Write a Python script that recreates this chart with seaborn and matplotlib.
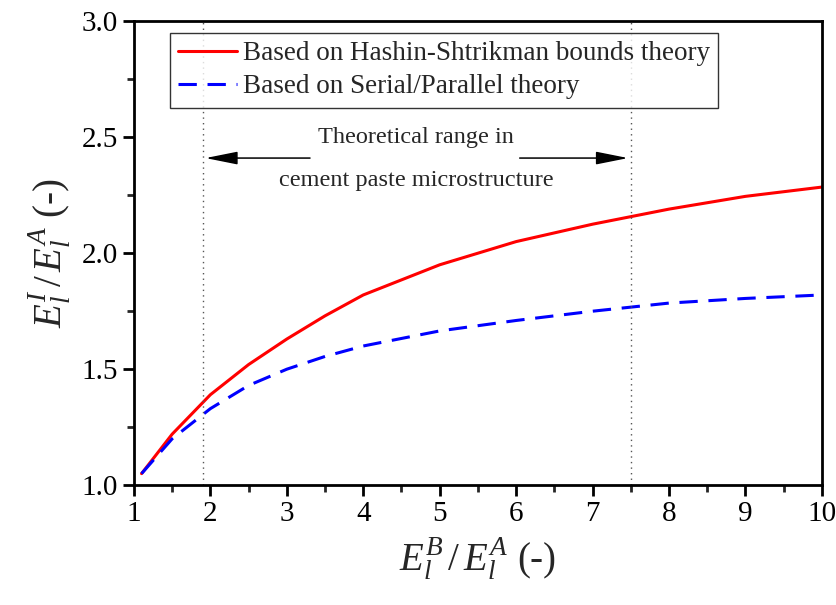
import matplotlib

matplotlib.use("Agg")
import matplotlib.pyplot as plt
import numpy as np
import pandas as pd
import seaborn as sns
from matplotlib.ticker import MultipleLocator

# stiffness ratio E_l^B / E_l^A
ratio = [1.1, 1.5, 2.0, 2.5, 3.0, 3.5, 4.0, 5.0, 6.0, 7.0, 8.0, 9.0, 10.0]
# homogenised ratio E_l^I / E_l^A
hs_bounds = [1.05, 1.22, 1.39, 1.52, 1.63, 1.73, 1.82, 1.95, 2.05, 2.125, 2.19, 2.245, 2.285]
serial_parallel = [1.05, 1.20, 1.33, 1.43, 1.50, 1.555, 1.60, 1.665, 1.71, 1.75, 1.785, 1.805, 1.82]
series_names = ["Based on Hashin-Shtrikman bounds theory", "Based on Serial/Parallel theory"]
range_limits = [1.9, 7.5]

df = pd.DataFrame({
    "ratio": ratio * 2,
    "value": hs_bounds + serial_parallel,
    "model": [series_names[0]] * len(ratio) + [series_names[1]] * len(ratio),
})

sns.set_theme(style="ticks")
plt.rcParams["font.family"] = ["Liberation Serif", "DejaVu Serif"]
plt.rcParams["mathtext.fontset"] = "custom"
plt.rcParams["mathtext.rm"] = "Liberation Serif"
plt.rcParams["mathtext.it"] = "Liberation Serif:italic"

fig = plt.figure(figsize=(8.37, 6.05), dpi=100)
ax = fig.add_axes([0.160, 0.198, 0.822, 0.767])

sns.lineplot(data=df, x="ratio", y="value", hue="model", style="model",
             palette=["#ff0000", "#0000ff"], dashes=[(), (6, 3.5)],
             linewidth=2.2, ax=ax)

for xv in range_limits:
    ax.axvline(xv, color="#555555", linestyle=(0, (1, 3)), linewidth=1)

# double-headed range arrow split around the text
arrow_style = "-|>,head_length=0.9,head_width=0.18"
ax.annotate("", xy=(range_limits[0], 2.41), xytext=(3.34, 2.41),
            arrowprops=dict(arrowstyle=arrow_style, color="black", lw=1.1, mutation_scale=22))
ax.annotate("", xy=(range_limits[1], 2.41), xytext=(6.01, 2.41),
            arrowprops=dict(arrowstyle=arrow_style, color="black", lw=1.1, mutation_scale=22))
ax.text(4.69, 2.50, "Theoretical range in", ha="center", va="center", fontsize=17.5)
ax.text(4.69, 2.315, "cement paste microstructure", ha="center", va="center", fontsize=17.5)

ax.set_xlim(1, 10)
ax.set_ylim(1.0, 3.0)
ax.xaxis.set_major_locator(MultipleLocator(1))
ax.xaxis.set_minor_locator(MultipleLocator(0.5))
ax.yaxis.set_major_locator(MultipleLocator(0.5))
ax.yaxis.set_minor_locator(MultipleLocator(0.25))
ax.set_yticks([1.0, 1.5, 2.0, 2.5, 3.0], ["1.0", "1.5", "2.0", "2.5", "3.0"])
ax.tick_params(which="major", direction="out", length=8, width=2, labelsize=21, colors="black")
ax.tick_params(which="minor", direction="out", length=5, width=2)
for sp in ax.spines.values():
    sp.set_linewidth(2)
    sp.set_color("black")

ax.set_xlabel(r"$E_l^B\,/\,E_l^A$ (-)", fontsize=28, labelpad=6)
ax.set_ylabel(r"$E_l^I\,/\,E_l^A$ (-)", fontsize=28, labelpad=6)

leg = ax.legend(loc="upper left", bbox_to_anchor=(0.052, 0.974), fontsize=19.5,
                frameon=True, fancybox=False, edgecolor="black", handlelength=2.2,
                borderpad=0.3, labelspacing=0.3, handletextpad=0.2, borderaxespad=0)
leg.get_frame().set_linewidth(1)
leg.set_title(None)

fig.savefig("out.png", dpi=100)
